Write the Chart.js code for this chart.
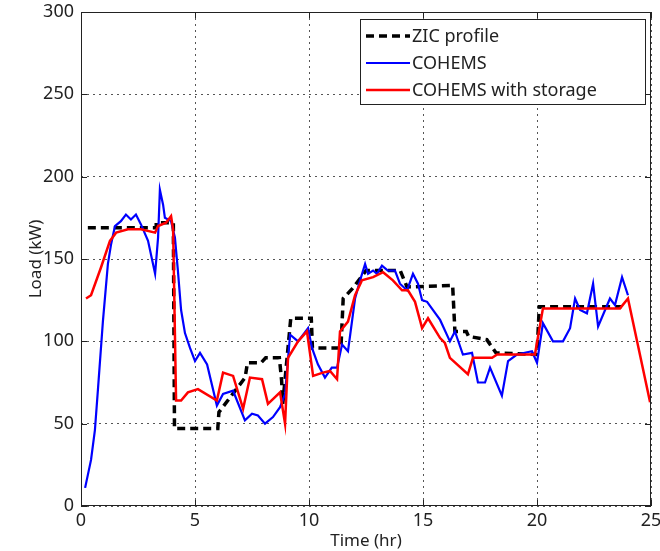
<!DOCTYPE html>
<html>
<head>
<meta charset="utf-8">
<script src="https://cdn.jsdelivr.net/npm/chart.js@4.4.1/dist/chart.umd.min.js"></script>
<style>
  html, body { margin: 0; padding: 0; background: #fff; }
  #wrap { width: 660px; height: 551px; }
</style>
</head>
<body>
<div id="wrap"><canvas id="loadChart" width="660" height="551"></canvas></div>
<script>
// ZIC profile (dashed black step profile)
const zicX = [0.3, 3.3, 3.3, 4.05, 4.1, 6.0, 6.05, 7.2, 7.3, 7.9, 8.1, 8.7, 8.8, 8.85, 9.2, 10.1, 10.15, 11.4, 11.5, 11.9, 12.4, 12.5, 14.0, 14.3, 16.3, 16.4, 16.9, 17.0, 17.8, 18.2, 20.0, 20.1, 23.7];
const zicY = [169, 169, 172, 172, 47, 47, 57, 78, 87, 87, 90, 90, 76, 62, 114, 114, 96, 96, 126, 132, 141, 143, 143, 133, 134, 106, 106, 103, 101, 93, 92, 121, 121];

// COHEMS (blue)
const cohemsX = [0.18, 0.44, 0.61, 0.75, 0.96, 1.18, 1.32, 1.49, 1.75, 1.97, 2.19, 2.41, 2.63, 2.94, 3.25, 3.38, 3.46, 3.6, 3.68, 3.95, 4.12, 4.25, 4.39, 4.56, 4.78, 5.0, 5.22, 5.53, 5.96, 6.23, 6.67, 7.19, 7.5, 7.76, 8.07, 8.42, 8.73, 8.95, 9.17, 9.52, 9.96, 10.13, 10.39, 10.7, 11.0, 11.23, 11.45, 11.71, 12.02, 12.24, 12.46, 12.59, 12.81, 12.98, 13.2, 13.46, 13.77, 13.99, 14.3, 14.56, 14.78, 14.96, 15.18, 15.75, 16.18, 16.4, 16.75, 17.15, 17.41, 17.72, 17.94, 18.46, 18.73, 19.12, 19.78, 20.0, 20.26, 20.7, 21.14, 21.45, 21.67, 21.89, 22.19, 22.46, 22.68, 23.2, 23.42, 23.73, 23.99];
const cohemsY = [11, 28, 46, 72, 112, 147, 159, 170, 173, 177, 174, 177, 171, 161, 141, 163, 192, 183, 175, 173, 163, 143, 119, 105, 96, 88, 93, 86, 61, 68, 70, 52, 56, 55, 50, 54, 60, 68, 104, 100, 108, 96, 86, 78, 84, 84, 98, 94, 126, 137, 147, 141, 143, 141, 146, 143, 143, 135, 131, 141, 135, 125, 124, 113, 100, 106, 92, 93, 75, 75, 84, 67, 88, 92, 94, 87, 111, 100, 100, 108, 126, 119, 117, 135, 109, 126, 122, 139, 128];

// COHEMS with storage (red)
const storageX = [0.22, 0.44, 0.88, 1.27, 1.54, 2.06, 2.63, 3.25, 3.38, 3.73, 3.95, 4.04, 4.17, 4.39, 4.69, 5.13, 5.96, 6.23, 6.67, 7.11, 7.41, 7.94, 8.2, 8.73, 8.95, 9.08, 9.52, 9.91, 10.18, 10.61, 10.92, 11.23, 11.36, 11.71, 12.02, 12.32, 12.81, 13.25, 13.68, 14.08, 14.34, 14.65, 14.96, 15.22, 15.75, 15.96, 16.18, 16.97, 17.19, 18.03, 18.25, 19.91, 20.26, 23.64, 23.99, 24.96];
const storageY = [126, 128, 145, 161, 166, 168, 168, 166, 170, 172, 176, 168, 64, 64, 69, 71, 64, 81, 79, 59, 78, 77, 62, 69, 50, 90, 100, 106, 79, 81, 82, 77, 106, 112, 128, 137, 139, 142, 137, 131, 131, 124, 108, 114, 102, 99, 90, 80, 90, 90, 92, 92, 120, 120, 126, 63];

const xTicks = [0, 5, 10, 15, 20, 25];
const yTicks = [0, 50, 100, 150, 200, 250, 300];

const toPoints = (xs, ys) => xs.map((x, i) => ({x: x, y: ys[i]}));

// box round the plot plus inward tick marks, like the original figure
const boxTicks = {
    id: 'boxTicks',
    afterDraw(chart) {
        const c = chart.ctx;
        const a = chart.chartArea;
        const xs = chart.scales.x, ys = chart.scales.y;
        c.save();
        c.strokeStyle = '#222';
        c.lineWidth = 1;
        c.strokeRect(a.left + 0.5, a.top + 0.5, a.right - a.left - 1, a.bottom - a.top - 1);
        c.beginPath();
        xTicks.forEach(v => {
            const px = Math.round(xs.getPixelForValue(v)) + 0.5;
            c.moveTo(px, a.bottom); c.lineTo(px, a.bottom - 6);
            c.moveTo(px, a.top); c.lineTo(px, a.top + 6);
        });
        yTicks.forEach(v => {
            const py = Math.round(ys.getPixelForValue(v)) + 0.5;
            c.moveTo(a.left, py); c.lineTo(a.left + 6, py);
            c.moveTo(a.right, py); c.lineTo(a.right - 6, py);
        });
        c.stroke();
        c.restore();
    }
};

// boxed legend in the upper right corner
const legendBox = {
    id: 'legendBox',
    afterDraw(chart) {
        const c = chart.ctx;
        c.save();
        c.fillStyle = '#fff';
        c.fillRect(360, 19, 285, 85);
        c.strokeStyle = '#222';
        c.lineWidth = 1;
        c.strokeRect(360.5, 19.5, 285, 85);
        c.font = '18px "Noto Sans"';
        c.textBaseline = 'middle';
        chart.data.datasets.forEach((ds, i) => {
            const y = 36 + i * 27;
            c.beginPath();
            c.strokeStyle = ds.borderColor;
            c.lineWidth = ds.borderWidth;
            c.setLineDash(ds.borderDash || []);
            c.moveTo(366, y); c.lineTo(410, y);
            c.stroke();
            c.setLineDash([]);
            c.fillStyle = '#222';
            c.fillText(ds.label, 412, y + 1);
        });
        c.restore();
    }
};

const ctx = document.getElementById('loadChart').getContext('2d');

const config = {
    type: 'line',
    data: {
        datasets: [{
            label: 'ZIC profile',
            data: toPoints(zicX, zicY),
            borderColor: '#000',
            borderWidth: 3.5,
            borderDash: [8, 5],
            order: 3
        }, {
            label: 'COHEMS',
            data: toPoints(cohemsX, cohemsY),
            borderColor: '#0000ff',
            borderWidth: 2.2,
            order: 2
        }, {
            label: 'COHEMS with storage',
            data: toPoints(storageX, storageY),
            borderColor: '#ff0000',
            borderWidth: 2.5,
            order: 1
        }]
    },
    options: {
        responsive: false,
        animation: false,
        layout: {
            padding: {top: 12, right: 9, left: 0, bottom: 0}
        },
        elements: {
            point: {radius: 0},
            line: {tension: 0, fill: false}
        },
        plugins: {
            legend: {display: false},
            tooltip: {enabled: false}
        },
        scales: {
            x: {
                type: 'linear',
                min: 0,
                max: 25,
                afterFit: scale => {
                    scale.height = 45;
                    scale.paddingLeft = 0;
                    scale.paddingRight = 0;
                },
                afterBuildTicks: scale => { scale.ticks = xTicks.map(v => ({value: v})); },
                grid: {
                    color: '#555',
                    borderDash: [2, 4],
                    drawTicks: false
                },
                border: {display: false, dash: [2, 4]},
                ticks: {
                    padding: 4,
                    color: '#222',
                    font: {family: 'Noto Sans', size: 18}
                },
                title: {
                    display: true,
                    text: 'Time (hr)',
                    color: '#222',
                    padding: {top: 0, bottom: 0},
                    font: {family: 'Noto Sans', size: 17}
                }
            },
            y: {
                min: 0,
                max: 300,
                afterFit: scale => {
                    scale.width = 81;
                    scale.paddingTop = 0;
                    scale.paddingBottom = 0;
                },
                afterBuildTicks: scale => { scale.ticks = yTicks.map(v => ({value: v})); },
                grid: {
                    color: '#555',
                    drawTicks: false
                },
                border: {display: false, dash: [2, 4]},
                ticks: {
                    padding: 7,
                    color: '#222',
                    font: {family: 'Noto Sans', size: 18}
                },
                title: {
                    display: true,
                    text: 'Load (kW)',
                    color: '#222',
                    padding: {top: 26, bottom: 0},
                    font: {family: 'Noto Sans', size: 17}
                }
            }
        }
    },
    plugins: [boxTicks, legendBox]
};

new Chart(ctx, config);
</script>
</body>
</html>
